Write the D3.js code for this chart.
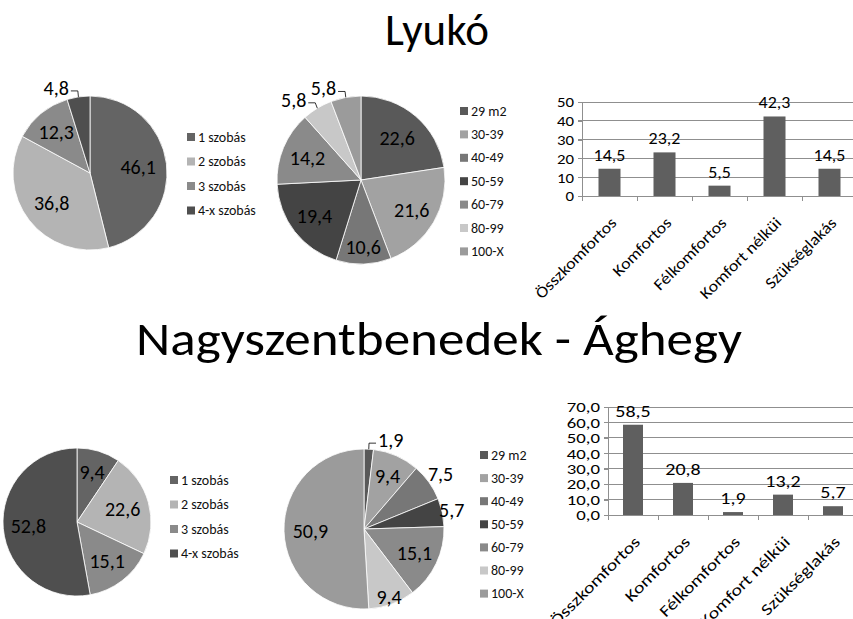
<!DOCTYPE html>
<html>
<head>
<meta charset="utf-8">
<script src="https://cdn.jsdelivr.net/npm/d3@7"></script>
<style>
  html, body { margin: 0; padding: 0; background: #fff; }
  svg { display: block; font-family: Carlito, Calibri, "Open Sans", sans-serif; }
</style>
</head>
<body>
<svg id="chart" width="853" height="619"></svg>
<script>
// ---------------- DATA ----------------
const titles = ["Lyukó", "Nagyszentbenedek - Ághegy"];
const roomCategories = ["1 szobás", "2 szobás", "3 szobás", "4-x szobás"];
const sizeCategories = ["29 m2", "30-39", "40-49", "50-59", "60-79", "80-99", "100-X"];
const comfortCategories = ["Összkomfortos", "Komfortos", "Félkomfortos", "Komfort nélküi", "Szükséglakás"];

const lyukoRooms = [46.1, 36.8, 12.3, 4.8];
const lyukoSizes = [22.6, 21.6, 10.6, 19.4, 14.2, 5.8, 5.8];
const lyukoComfort = [14.5, 23.2, 5.5, 42.3, 14.5];

const nagyRooms = [9.4, 22.6, 15.1, 52.8];
const nagySizes = [1.9, 9.4, 7.5, 5.7, 15.1, 9.4, 50.9];
const nagyComfort = [58.5, 20.8, 1.9, 13.2, 5.7];

const lyukoTicks = [0, 10, 20, 30, 40, 50];
const nagyTicks = [0, 10, 20, 30, 40, 50, 60, 70];

// ---------------- STYLE / LAYOUT ----------------
const roomColors = ["#646464", "#b4b4b4", "#8a8a8a", "#4f4f4f"];
const sizeColors = ["#595959", "#a2a2a2", "#777777", "#444444", "#8a8a8a", "#c8c8c8", "#9b9b9b"];
const barColor = "#5f5f5f";
const gridColor = "#8f8f8f";

const huLocale = d3.formatLocale({decimal: ",", thousands: " ", grouping: [3], currency: ["", " Ft"]});
const fmt1 = huLocale.format(".1f");
const fmt0 = huLocale.format("d");

// label placement per slice: number = radius factor for centroid; object = leader label
const layouts = {
  lyukoRooms:  [0.63, 0.63, 0.69, {leader: "left"}],
  lyukoSizes:  [0.66, 0.70, 0.80, 0.70, 0.69, {leader: "left"}, {leader: "left"}],
  nagyRooms:   [0.70, 0.64, 0.67, 0.66],
  nagySizes:   [{leader: "right"}, 0.73, 1.18, 1.12, 0.70, 0.90, 0.67]
};

const svg = d3.select("#chart");
svg.append("rect").attr("width", 853).attr("height", 619).attr("fill", "#fff");

// widen text horizontally by factor k (keeps it real text)
function stretch(sel, k) {
  sel.each(function () {
    const w = this.getComputedTextLength();
    if (w > 0) d3.select(this).attr("textLength", w * k).attr("lengthAdjust", "spacingAndGlyphs");
  });
}

// ---------------- TITLES ----------------
svg.append("text").attr("x", 437).attr("y", 45).attr("text-anchor", "middle")
  .attr("font-size", 45).attr("fill", "#000").text(titles[0]);
svg.append("text").attr("x", 439).attr("y", 355).attr("text-anchor", "middle")
  .attr("font-size", 47).attr("fill", "#000")
  .attr("textLength", 606).attr("lengthAdjust", "spacingAndGlyphs").text(titles[1]);

// ---------------- PIE ----------------
function drawPie(cx, cy, r, values, colors, layout) {
  const g = svg.append("g").attr("transform", `translate(${cx},${cy})`);
  const pie = d3.pie().sort(null).value(d => d);
  const arcs = pie(values);
  const arc = d3.arc().innerRadius(0).outerRadius(r);
  g.selectAll("path.slice").data(arcs).join("path")
    .attr("class", "slice")
    .attr("d", arc)
    .attr("fill", (d, i) => colors[i])
    .attr("stroke", "#ffffff").attr("stroke-width", 0.8);

  arcs.forEach((d, i) => {
    const mid = (d.startAngle + d.endAngle) / 2;
    const L = layout[i];
    const label = fmt1(d.data);
    if (typeof L === "number") {
      const c = d3.arc().innerRadius(0).outerRadius(2 * r * L).centroid(d);
      g.append("text").attr("x", c[0]).attr("y", c[1])
        .attr("text-anchor", "middle").attr("dominant-baseline", "central")
        .attr("font-size", 20).attr("fill", "#000").text(label);
    } else {
      const ex = Math.sin(mid) * r, ey = -Math.cos(mid) * r;
      const bx = Math.sin(mid) * (r + 4), by = -Math.cos(mid) * (r + 4) - 2;
      const dir = L.leader === "left" ? -1 : 1;
      const hx = bx + dir * 7;
      g.append("polyline")
        .attr("points", [[ex, ey], [bx, by], [hx, by]].map(p => p.join(",")).join(" "))
        .attr("fill", "none").attr("stroke", "#000").attr("stroke-width", 0.8);
      g.append("text").attr("x", hx + dir * 2).attr("y", by - 3)
        .attr("text-anchor", dir < 0 ? "end" : "start").attr("dominant-baseline", "central")
        .attr("font-size", 20).attr("fill", "#000").text(label);
    }
  });
}

function drawLegend(x, y, step, cats, colors) {
  const g = svg.append("g").attr("transform", `translate(${x},${y})`);
  const items = g.selectAll("g").data(cats).join("g")
    .attr("transform", (d, i) => `translate(0,${i * step})`);
  items.append("rect").attr("x", 0).attr("y", -4).attr("width", 8).attr("height", 8)
    .attr("fill", (d, i) => colors[i]);
  items.append("text").attr("x", 11).attr("y", 0).attr("dominant-baseline", "central")
    .attr("font-size", 14).attr("fill", "#111").text(d => d);
}

// ---------------- BAR ----------------
function drawBar(x0, x1, yBottom, yTop, ticks, values, tickFmt, k) {
  const x = d3.scaleBand().domain(comfortCategories).range([x0, x1]).paddingInner(0.6).paddingOuter(0.3);
  const y = d3.scaleLinear().domain([ticks[0], ticks[ticks.length - 1]]).range([yBottom, yTop]);
  const g = svg.append("g");
  // grid
  g.selectAll("line.grid").data(ticks.slice(1)).join("line")
    .attr("x1", x0 - 4).attr("x2", 853).attr("y1", d => y(d)).attr("y2", d => y(d))
    .attr("stroke", gridColor).attr("stroke-width", 1).attr("shape-rendering", "crispEdges");
  // y axis
  const ya = g.append("g").attr("transform", `translate(${x0},0)`)
    .call(d3.axisLeft(y).tickValues(ticks).tickFormat(tickFmt).tickSize(4).tickPadding(4));
  ya.select(".domain").attr("stroke", gridColor).attr("shape-rendering", "crispEdges");
  ya.selectAll(".tick line").attr("stroke", gridColor).attr("shape-rendering", "crispEdges");
  const yt = ya.selectAll("text").attr("font-size", 15).attr("fill", "#000")
    .attr("font-family", "Carlito, Calibri, 'Open Sans', sans-serif");
  stretch(yt, k);
  // x axis
  const step = x.step();
  const bounds = d3.range(comfortCategories.length + 1).map(i => x0 + i * step);
  g.append("line").attr("x1", x0).attr("x2", 853).attr("y1", yBottom).attr("y2", yBottom)
    .attr("stroke", gridColor).attr("shape-rendering", "crispEdges");
  g.selectAll("line.xt").data(bounds).join("line")
    .attr("x1", d => d).attr("x2", d => d).attr("y1", yBottom).attr("y2", yBottom + 5)
    .attr("stroke", gridColor).attr("shape-rendering", "crispEdges");
  // bars
  g.selectAll("rect.bar").data(values).join("rect")
    .attr("x", (d, i) => x(comfortCategories[i]))
    .attr("width", x.bandwidth())
    .attr("y", d => y(d))
    .attr("height", d => yBottom - y(d))
    .attr("fill", barColor);
  // value labels
  const vl = g.selectAll("text.val").data(values).join("text")
    .attr("x", (d, i) => x(comfortCategories[i]) + x.bandwidth() / 2)
    .attr("y", d => y(d) - 8)
    .attr("text-anchor", "middle").attr("font-size", 16).attr("fill", "#000")
    .text(d => fmt1(d));
  stretch(vl, k);
  // category labels
  const cl = g.selectAll("text.cat").data(comfortCategories).join("text")
    .attr("transform", d => `translate(${x(d) + x.bandwidth() / 2},${yBottom + 20}) rotate(-45)`)
    .attr("text-anchor", "end").attr("dy", "0.7em")
    .attr("font-size", 16).attr("fill", "#000").text(d => d);
  stretch(cl, k);
}

// ---------------- DRAW ----------------
drawPie(90, 173, 77, lyukoRooms, roomColors, layouts.lyukoRooms);
drawLegend(187, 137, 24.5, roomCategories, roomColors);
drawPie(361, 180, 84, lyukoSizes, sizeColors, layouts.lyukoSizes);
drawLegend(460, 111, 23.4, sizeCategories, sizeColors);
drawBar(582, 857, 196, 102, lyukoTicks, lyukoComfort, fmt0, 1.12);

drawPie(77, 522, 74, nagyRooms, roomColors, layouts.nagyRooms);
drawLegend(170, 480, 24.5, roomCategories, roomColors);
drawPie(364, 529, 80, nagySizes, sizeColors, layouts.nagySizes);
drawLegend(480, 455, 23.1, sizeCategories, sizeColors);
drawBar(608, 858, 515, 407, nagyTicks, nagyComfort, fmt1, 1.25);
</script>
</body>
</html>
